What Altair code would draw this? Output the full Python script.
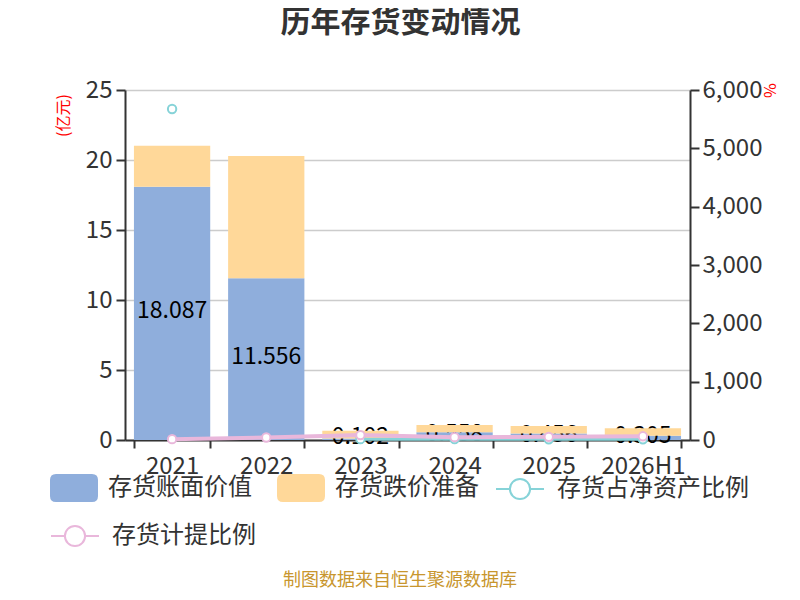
import altair as alt
import pandas as pd

years = ["2021", "2022", "2023", "2024", "2025", "2026H1"]
book_value = [18.087, 11.556, 0.102, 0.558, 0.456, 0.305]
impairment = [2.93, 8.73, 0.56, 0.52, 0.54, 0.53]
net_asset_ratio = [5674, None, 15, 14, 13, 12]
provision_ratio = [13.9, 43.0, 84.6, 48.2, 54.2, 63.5]

BLUE = "#8FAEDC"
ORANGE = "#FFD899"
TEAL = "#86D3D8"
PINK = "#E9B7DB"
FONT = "Noto Sans CJK SC"

df = pd.DataFrame({
    "year": years,
    "book": book_value,
    "impair": impairment,
    "net_ratio": net_asset_ratio,
    "prov_ratio": provision_ratio,
})

RR = ("M-0.75,-0.583 L0.75,-0.583 Q1,-0.583 1,-0.333 L1,0.333 Q1,0.583 0.75,0.583 "
      "L-0.75,0.583 Q-1,0.583 -1,0.333 L-1,-0.333 Q-1,-0.583 -0.75,-0.583 Z")
LINESYM = ("M-1,0 L-0.42,0 M0.42,0 L1,0 M0.42,0 A0.42,0.42 0 1,1 -0.42,0 "
           "A0.42,0.42 0 1,1 0.42,0")

x_enc = alt.X(
    "year:N", sort=years,
    scale=alt.Scale(paddingInner=0.19, paddingOuter=0.095),
    axis=alt.Axis(title=None, labelAngle=0, labelFontSize=24, labelColor="#333",
                  tickBand="extent", tickSize=8, tickColor="#333", tickWidth=2,
                  domainColor="#333", domainWidth=2, labelPadding=6),
)

left_axis = alt.Axis(title="(亿元)", titleColor="red", titleFontSize=16, titleFontWeight="normal",
                     titleAngle=270, titleX=-62, titleY=25, titleAlign="center",
                     titleBaseline="middle", values=[0, 5, 10, 15, 20, 25],
                     labelFontSize=24, labelColor="#333", gridColor="#cccccc", gridWidth=1.5,
                     domainColor="#333", domainWidth=2, tickColor="#333", tickWidth=2,
                     tickSize=9, labelPadding=4)
left_scale = alt.Scale(domain=[0, 25])

color_scale = alt.Scale(domain=["存货账面价值", "存货跌价准备"], range=[BLUE, ORANGE])
bar_legend = alt.Legend(orient="none", legendX=-75, legendY=374, direction="horizontal",
                        title=None, symbolType=RR, symbolSize=2304, symbolStrokeWidth=0,
                        labelFontSize=24, labelColor="#333", labelFont=FONT, labelLimit=300,
                        columnPadding=25, labelOffset=10, padding=0)

blue = alt.Chart(df).transform_calculate(series="'存货账面价值'").mark_bar().encode(
    x=x_enc,
    y=alt.Y("book:Q", scale=left_scale, axis=left_axis),
    color=alt.Color("series:N", scale=color_scale, legend=bar_legend),
)
labels = alt.Chart(df).transform_calculate(mid="datum.book / 2").mark_text(
    fontSize=23, color="black", baseline="middle", font=FONT, dy=-2
).encode(
    x=x_enc,
    y=alt.Y("mid:Q", scale=left_scale, axis=left_axis),
    text=alt.Text("book:Q", format=".3f"),
)
orange = alt.Chart(df).transform_calculate(
    series="'存货跌价准备'", top="datum.book + datum.impair"
).mark_bar().encode(
    x=x_enc,
    y=alt.Y("book:Q", scale=left_scale, axis=left_axis),
    y2="top:Q",
    color=alt.Color("series:N", scale=color_scale, legend=bar_legend),
)
bars = alt.layer(blue, labels, orange)

right_scale = alt.Scale(domain=[0, 6000])
right_axis = alt.Axis(orient="right", title="%", titleColor="red", titleFontSize=16,
                      titleFontWeight="normal", titleAngle=90, titleX=78, titleY=0,
                      titleAlign="center", titleBaseline="middle",
                      values=[0, 1000, 2000, 3000, 4000, 5000, 6000], format=",.0f",
                      labelFontSize=24, labelColor="#333", grid=False,
                      domainColor="#333", domainWidth=2, tickColor="#333", tickWidth=2,
                      tickSize=9, labelPadding=3)


def line_legend(lx, ly):
    return alt.Legend(orient="none", legendX=lx, legendY=ly, title=None,
                      symbolType=LINESYM, symbolSize=2304, symbolStrokeWidth=2,
                      symbolFillColor="white", labelFontSize=24, labelColor="#333",
                      labelFont=FONT, labelOffset=12, labelLimit=300, padding=0)


def series_layer(field, name, colr, width, lx, ly):
    sc = alt.Scale(domain=[name], range=[colr])
    base = alt.Chart(df).transform_calculate(s=f"'{name}'")
    ln = base.mark_line(strokeWidth=width, invalid="break-paths-show-domains").encode(
        x=x_enc,
        y=alt.Y(f"{field}:Q", scale=right_scale, axis=right_axis),
        stroke=alt.Stroke("s:N", scale=sc, legend=line_legend(lx, ly)),
    )
    pt = base.mark_point(filled=True, fill="white", size=70, strokeWidth=2, opacity=1).encode(
        x=x_enc,
        y=alt.Y(f"{field}:Q", scale=right_scale, axis=right_axis),
        stroke=alt.Stroke("s:N", scale=sc, legend=line_legend(lx, ly)),
    )
    return alt.layer(ln, pt)


teal = series_layer("net_ratio", "存货占净资产比例", TEAL, 3, 370, 374)
pink = series_layer("prov_ratio", "存货计提比例", PINK, 4, -75, 421)
lines = alt.layer(teal, pink).resolve_scale(stroke="independent")

footer_df = pd.DataFrame({"t": ["制图数据来自恒生聚源数据库"]})
footer = alt.Chart(footer_df).mark_text(
    fontSize=18, color="#C8962E", font=FONT, baseline="middle", align="center"
).encode(x=alt.value(275), y=alt.value(491), text="t:N")

chart = alt.layer(bars, lines, footer).resolve_scale(
    y="independent", stroke="independent", color="independent"
).properties(
    width=565, height=350,
    padding={"left": 117, "top": 82, "right": 100, "bottom": 152},
    autosize=alt.AutoSizeParams(type="none"),
    title=alt.Title("历年存货变动情况", fontSize=30, fontWeight="bold", color="#333",
                    font=FONT, offset=40, dx=-7, frame="group", anchor="middle"),
).configure(font=FONT).configure_view(stroke=None)

chart.save("out.html", embed_options={"renderer": "svg", "actions": False})
